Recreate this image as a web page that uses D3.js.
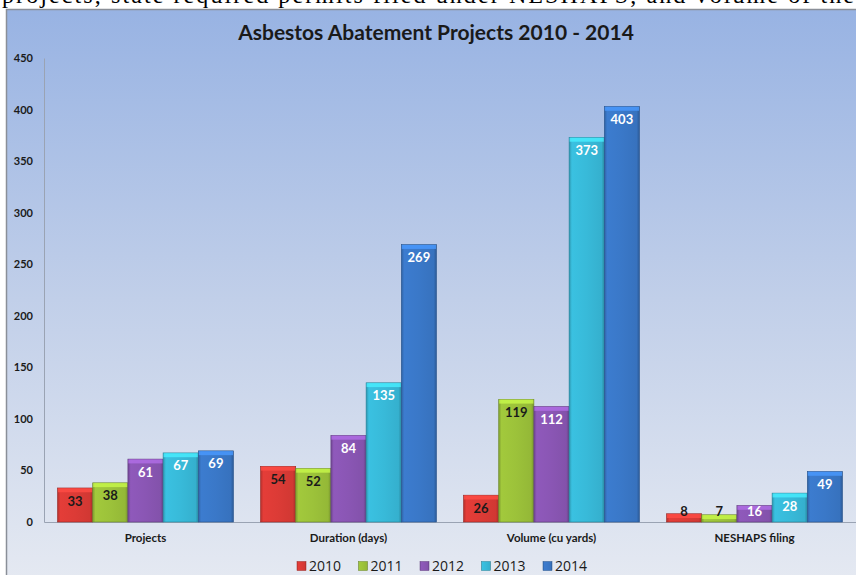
<!DOCTYPE html>
<html><head><meta charset="utf-8">
<script src="https://cdn.jsdelivr.net/npm/d3@7"></script>
<style>html,body{margin:0;padding:0;background:#fff;overflow:hidden}</style>
</head><body>
<svg id="c" width="856" height="575"></svg>
<script>
const categories = ["Projects","Duration (days)","Volume (cu yards)","NESHAPS filing"];
const years = ["2010","2011","2012","2013","2014"];
const v2010 = [33,54,26,8];
const v2011 = [38,52,119,7];
const v2012 = [61,84,112,16];
const v2013 = [67,135,373,28];
const v2014 = [69,269,403,49];
const yTicks = [0,50,100,150,200,250,300,350,400,450];
const seriesValues = [v2010,v2011,v2012,v2013,v2014];
const colors = ["#dc3b36","#9cc23a","#8a56b4","#38bad9","#3a78c8"];
const labelColors = ["#1a1a1a","#1a1a1a","#ffffff","#ffffff","#ffffff"];
const title = "Asbestos Abatement Projects 2010 - 2014";
const topText = "projects, state required permits filed under NESHAPS, and volume of the";

const svg = d3.select("#c");
const defs = svg.append("defs");

const bg = defs.append("linearGradient").attr("id","bg").attr("x1",0).attr("y1",0).attr("x2",0).attr("y2",1);
bg.append("stop").attr("offset","0%").attr("stop-color","#98b3e3");
bg.append("stop").attr("offset","50%").attr("stop-color","#c1cfe9");
bg.append("stop").attr("offset","100%").attr("stop-color","#e6eaf2");

// partially visible text line above the chart (as in the reference)
svg.append("text")
  .attr("x",2).attr("y",3).attr("font-family","Liberation Serif, serif").attr("font-size",24)
  .attr("textLength",852).attr("lengthAdjust","spacing").attr("fill","#000").text(topText);

svg.append("rect").attr("x",6.5).attr("y",9.5).attr("width",860).attr("height",580)
  .attr("fill","url(#bg)").attr("stroke","#8a8f98").attr("stroke-width",1.5);

colors.forEach((c,i)=>{
  const g = defs.append("linearGradient").attr("id","bar"+i).attr("x1",0).attr("y1",0).attr("x2",1).attr("y2",0);
  const base = d3.color(c);
  g.append("stop").attr("offset","0%").attr("stop-color",base.darker(0.6));
  g.append("stop").attr("offset","8%").attr("stop-color",base.brighter(0.1));
  g.append("stop").attr("offset","50%").attr("stop-color",base);
  g.append("stop").attr("offset","92%").attr("stop-color",base.darker(0.15));
  g.append("stop").attr("offset","100%").attr("stop-color",base.darker(0.8));
});

const y = d3.scaleLinear().domain([0,450]).range([522,58]);
const x0 = d3.scaleBand().domain(categories).range([44,856]).paddingInner(0).paddingOuter(0);
const x1 = d3.scaleBand().domain(years).range([13.5, x0.bandwidth()-13.5]).padding(0);

svg.append("text").attr("x",436).attr("y",40).attr("text-anchor","middle")
  .attr("font-family","Lato, 'Open Sans', sans-serif").attr("font-weight","bold").attr("font-size",21)
  .attr("fill","#1a1a1a").text(title);

const yAxis = d3.axisLeft(y).tickValues(yTicks).tickSize(0).tickPadding(0);
const ga = svg.append("g").attr("transform","translate(44,0)").call(yAxis);
ga.select(".domain").attr("stroke","#9aa3b3").attr("stroke-width",1);
ga.selectAll("text").attr("x",-11).attr("font-family","Lato, 'Open Sans', sans-serif")
  .attr("font-weight","bold").attr("font-size",11).attr("fill","#1a1a1a");

const xAxis = d3.axisBottom(x0).tickSize(0).tickPadding(0);
const gx = svg.append("g").attr("transform","translate(0,522)").call(xAxis);
gx.select(".domain").attr("stroke","#9aa3b3").attr("stroke-width",1);
gx.selectAll("text").attr("dy",0).attr("y",20).attr("font-family","Lato, 'Open Sans', sans-serif")
  .attr("font-weight","bold").attr("font-size",11.5).attr("fill","#1a1a1a");

const groups = svg.append("g").selectAll("g").data(categories).join("g")
  .attr("transform",d=>`translate(${x0(d)},0)`);
groups.each(function(cat,ci){
  const g = d3.select(this);
  years.forEach((yr,si)=>{
    const val = seriesValues[si][ci];
    const bx = x1(yr), bw = x1.bandwidth();
    const top = y(val), h = y(0)-y(val);
    g.append("rect").attr("x",bx).attr("y",top).attr("width",bw).attr("height",h)
      .attr("fill",`url(#bar${si})`).attr("stroke",d3.color(colors[si]).darker(1)).attr("stroke-width",0.6);
    const cap = Math.min(4,h);
    g.append("rect").attr("x",bx+0.5).attr("y",top+0.3).attr("width",bw-1).attr("height",cap)
      .attr("fill",d3.color(colors[si]).brighter(0.7)).attr("opacity",0.8);
    const ly = Math.min(top+13, y(0)-11);
    g.append("text").attr("x",bx+bw/2).attr("y",ly).attr("dy","0.35em").attr("text-anchor","middle")
      .attr("font-family","Lato, 'Open Sans', sans-serif").attr("font-weight","bold").attr("font-size",13)
      .attr("fill",labelColors[si]).text(val);
  });
});

const leg = svg.append("g").selectAll("g").data(years).join("g")
  .attr("transform",(d,i)=>`translate(${297+i*61.5},566)`);
leg.append("rect").attr("x",0).attr("y",-4.5).attr("width",9).attr("height",9)
  .attr("fill",(d,i)=>`url(#bar${i})`).attr("stroke",(d,i)=>d3.color(colors[i]).darker(1)).attr("stroke-width",0.5);
leg.append("text").attr("x",12).attr("y",0).attr("dy","0.36em")
  .attr("font-family","'Open Sans', Lato, sans-serif").attr("font-size",14).attr("fill","#1a1a1a").text(d=>d);
</script>
</body></html>
